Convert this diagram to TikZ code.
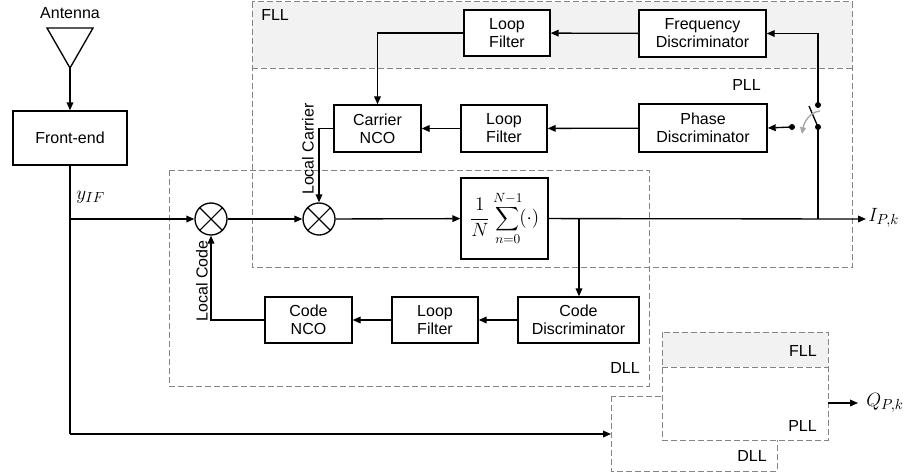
\documentclass[tikz,border=0pt]{standalone}
\usepackage{fontspec}
\usepackage{graphicx}
\setmainfont{Liberation Sans}
\usetikzlibrary{arrows.meta}
\newcommand{\bigsumsym}{\mathop{\vcenter{\hbox{\scalebox{1.25}{$\displaystyle\sum$}}}}\limits}
\begin{document}
\begin{tikzpicture}[x=0.75pt,y=-0.75pt,
  font=\fontsize{12}{13.5}\selectfont,
  blk/.style={draw, line width=1pt, fill=white, align=center, inner sep=0pt},
  wh/.style 2 args={minimum width=#1*0.75pt, minimum height=#2*0.75pt},
  sig/.style={line width=1pt},
  arr/.style={sig, -{Triangle[length=6pt,width=5pt]}},
  grp/.style={draw=black!48, dash pattern=on 4.5pt off 2.25pt, line width=0.75pt},
  lab/.style={inner sep=0pt},
  dot/.style={circle, fill, inner sep=0pt, minimum size=4.5pt},
  mix/.style={draw, circle, line width=1pt, minimum size=24pt, inner sep=0pt}
]
\useasboundingbox (0,0) rectangle (905,475);
\fill[white] (0,0) rectangle (905,475);

% group frames
\fill[black!5] (252,1.5) rectangle (852,68);
\draw[grp] (252,1.5) rectangle (852,267);
\draw[grp] (252,68) -- (852,68);
\draw[grp] (169,170) rectangle (649,386);

\draw[grp, fill=white] (611,396) rectangle (777,471);
\fill[white] (662,332) rectangle (828,440);
\fill[black!5] (662,332) rectangle (828,367);
\draw[grp] (662,332) rectangle (828,440);
\draw[grp] (662,367) -- (828,367);

\node[lab, anchor=west] (fllL) at (261,15) {FLL};
\node[lab, anchor=east] (pllL) at (761,85) {PLL};
\node[lab, anchor=east] (dllL) at (640,368) {DLL};
\node[lab, anchor=east] (fllS) at (817,351) {FLL};
\node[lab, anchor=east] (pllS) at (817,426) {PLL};
\node[lab, anchor=east] (dllS) at (767,456) {DLL};

% antenna
\node[lab] (antL) at (70,13) {Antenna};
\draw[line width=1pt] (47,28) -- (93,28) -- (70,68) -- cycle;
\coordinate (ant) at (70,68);

% blocks
\node[blk, wh={114}{54}] (fe) at (70,138) {Front-end};
\node[blk, wh={86}{46}] (lff) at (507,33) {Loop\\Filter};
\node[blk, wh={127}{47}] (fd) at (702.5,33.5) {Frequency\\Discriminator};
\node[blk, wh={87}{47}] (cnco) at (377.5,128.5) {Carrier\\NCO};
\node[blk, wh={86}{47}] (lfp) at (504,128.5) {Loop\\Filter};
\node[blk, wh={128}{48}] (pd) at (703,128) {Phase\\Discriminator};
\node[blk, wh={87}{81}, font=\fontsize{14}{16}\selectfont] (sum) at (504.5,218.5) {$\displaystyle\frac{1}{N}\bigsumsym_{n=0}^{N-1}\!(\cdot)$};
\node[blk, wh={87}{46}] (conco) at (308.5,320) {Code\\NCO};
\node[blk, wh={86}{46}] (lfd) at (435,320) {Loop\\Filter};
\node[blk, wh={121}{46}] (cd) at (578.5,320) {Code\\Discriminator};

% mixers
\node[mix] (m1) at (211,219) {};
\node[mix] (m2) at (319,219) {};
\draw[line width=0.8pt] (m1.45) -- (m1.225) (m1.135) -- (m1.315);
\draw[line width=0.8pt] (m2.45) -- (m2.225) (m2.135) -- (m2.315);

% switch
\node[dot] (s1) at (818,105) {};
\node[dot] (s2) at (818,127) {};
\node[dot] (s3) at (792,127) {};
\coordinate (blade) at (809,106);
\draw[sig] (s2.center) -- (blade);
\draw[black!35, line width=1pt, -{Triangle[length=5pt,width=4.5pt]}] (820,111) .. controls (810,112) and (804,122) .. (802,134);

% coordinates
\coordinate (j1) at (70,219);
\coordinate (j2) at (70,434);
\coordinate (dllin) at (611,434);
\coordinate (out) at (866,219);
\coordinate (b1) at (579,219);
\coordinate (b2) at (818,219);
\coordinate (qs) at (828,403);
\coordinate (qe) at (858,403);

% connectors
\draw[arr] (ant) -- (fe);
\draw[sig] (fe.south) -- (j2);
\draw[arr] (j2) -- (dllin);
\draw[arr] (j1) -- (m1);
\draw[arr] (m1) -- (m2);
\draw[arr] (m2) -- (sum);
\draw[arr] (sum) -- (out);
\draw[arr] (b1) -- (b1 |- cd.north);
\draw[arr] (cd) -- (lfd);
\draw[arr] (lfd) -- (conco);
\draw[arr] (conco.west) -| (m1.south);
\draw[arr] (cnco.west) -| (m2.north);
\draw[arr] (pd) -- (lfp);
\draw[arr] (lfp) -- (cnco);
\draw[arr] (fd) -- (lff);
\draw[arr] (lff.west) -| (cnco.north);
\draw[arr] (s1.center) |- (fd.east);
\draw[arr] (s3.center) -- (pd.east);
\draw[sig] (b2) -- (s2.center);
\draw[arr] (qs) -- (qe);

% labels
\node[lab, rotate=90] (lcar) at (308,149) {Local Carrier};
\node[lab, rotate=90] (lcod) at (202,281) {Local Code};
\node[lab, anchor=west, font=\fontsize{15}{17}\selectfont] (yif) at (76,197) {$y_{IF}$};
\node[lab, anchor=west, font=\fontsize{15}{17}\selectfont] (ipk) at (868,218) {$I_{P,k}$};
\node[lab, anchor=west, font=\fontsize{15}{17}\selectfont] (qpk) at (866,403) {$Q_{P,k}$};
\end{tikzpicture}
\end{document}
